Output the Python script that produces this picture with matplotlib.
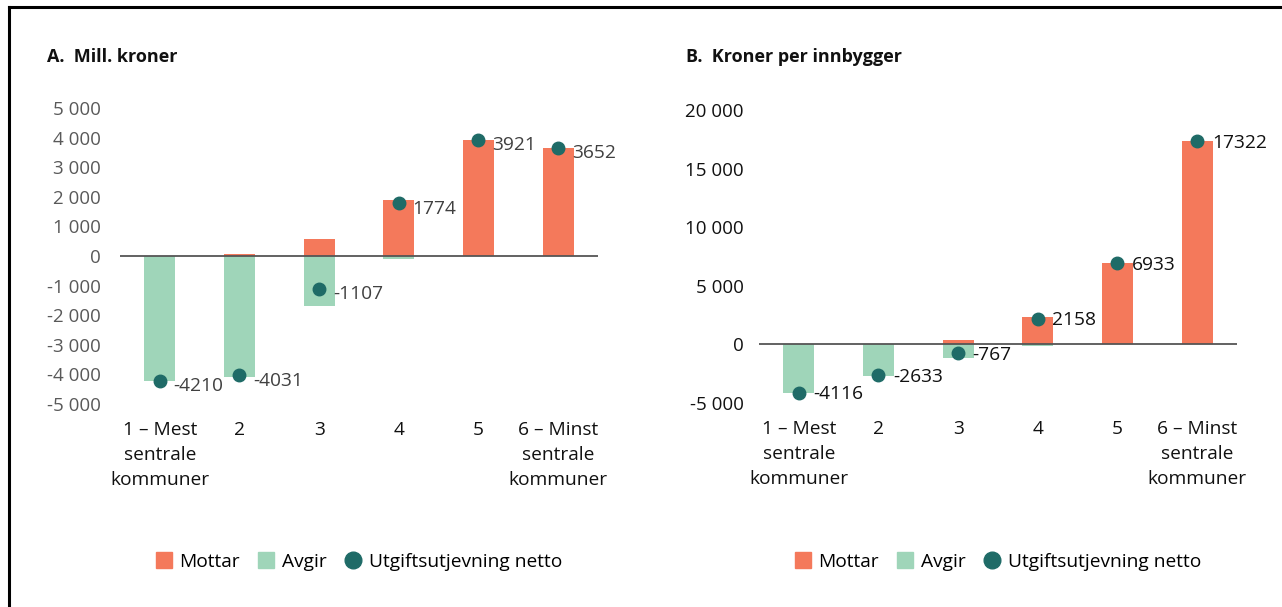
import numpy as np
import matplotlib.pyplot as plt
from matplotlib.lines import Line2D
from matplotlib.ticker import FuncFormatter

plt.rcParams['font.family'] = ['Open Sans', 'DejaVu Sans']

categories = ["1 – Mest\nsentrale\nkommuner", "2", "3", "4", "5",
              "6 – Minst\nsentrale\nkommuner"]

# A. Mill. kroner
mottar_a = [0, 70, 590, 1880, 3921, 3652]
avgir_a = [-4210, -4101, -1697, -106, 0, 0]
netto_a = [-4210, -4031, -1107, 1774, 3921, 3652]

# B. Kroner per innbygger
mottar_b = [0, 50, 400, 2300, 6933, 17322]
avgir_b = [-4116, -2683, -1167, -142, 0, 0]
netto_b = [-4116, -2633, -767, 2158, 6933, 17322]

ORANGE = "#f4795b"
GREEN = "#9fd5b9"
TEAL = "#1f6b67"
FS = 13.8

W, H = 1282, 607
fig = plt.figure(figsize=(W / 100, H / 100), dpi=100)


def fmt(v, pos):
    s = "{:,.0f}".format(abs(v)).replace(",", " ")
    return ("-" + s) if v < 0 else s


def panel(left, top, bottom, ylim, ticks, mottar, avgir, netto, title,
          tick_color, label_color, ypad, lab_dx, lab_dy):
    ax = fig.add_axes([left / W, (H - bottom) / H, 478 / W, (bottom - top) / H])
    x = np.arange(len(categories))
    ax.bar(x, mottar, width=0.39, color=ORANGE, zorder=2)
    ax.bar(x, avgir, width=0.39, color=GREEN, zorder=2)
    ax.axhline(0, color="#555555", lw=1.3, zorder=2.5)
    ax.plot(x, netto, "o", color=TEAL, ms=9, zorder=3)
    for xi, v in zip(x, netto):
        ax.annotate(str(v), (xi, v), xytext=(lab_dx, lab_dy),
                    textcoords="offset points", ha="left", va="center",
                    fontsize=FS, color=label_color, zorder=4)
    ax.set_xlim(-0.5, len(categories) - 0.5)
    ax.set_ylim(*ylim)
    ax.set_yticks(ticks)
    ax.yaxis.set_major_formatter(FuncFormatter(fmt))
    ax.set_xticks(x)
    ax.set_xticklabels(categories, fontsize=FS, linespacing=1.5)
    ax.tick_params(axis="y", length=0, pad=ypad, labelsize=FS - 0.3,
                   labelcolor=tick_color)
    ax.tick_params(axis="x", length=0, pad=12, labelcolor="#111111")
    for s in ax.spines.values():
        s.set_visible(False)
    fig.text((left - 73) / W, 1 - 57 / H, title, fontsize=13,
             fontweight="bold", va="center", ha="left", color="#111111")
    handles = [
        Line2D([], [], marker="s", ls="", color=ORANGE, ms=12, label="Mottar"),
        Line2D([], [], marker="s", ls="", color=GREEN, ms=12, label="Avgir"),
        Line2D([], [], marker="o", ls="", color=TEAL, ms=12,
               label="Utgiftsutjevning netto"),
    ]
    fig.legend(handles=handles, loc="center",
               bbox_to_anchor=((left + 239) / W, 1 - 562 / H), ncol=3,
               frameon=False, fontsize=FS, handlelength=0.8,
               handletextpad=0.4, columnspacing=1.0, borderaxespad=0)
    return ax


panel(120, 108, 404, (-5000, 5000), np.arange(-5000, 5001, 1000),
      mottar_a, avgir_a, netto_a, "A.  Mill. kroner",
      "#595959", "#404040", 14, 10, -4)
panel(759, 110, 403, (-5000, 20000), np.arange(-5000, 20001, 5000),
      mottar_b, avgir_b, netto_b, "B.  Kroner per innbygger",
      "#111111", "#111111", 11, 10.5, -1)

# frame: top and left edge only
fig.add_artist(Line2D([9 / W, 9 / W], [0, 1 - 7 / H], color="black", lw=2.2))
fig.add_artist(Line2D([9 / W, 1], [1 - 7 / H, 1 - 7 / H], color="black", lw=2.2))

fig.savefig("out.png", dpi=100)
